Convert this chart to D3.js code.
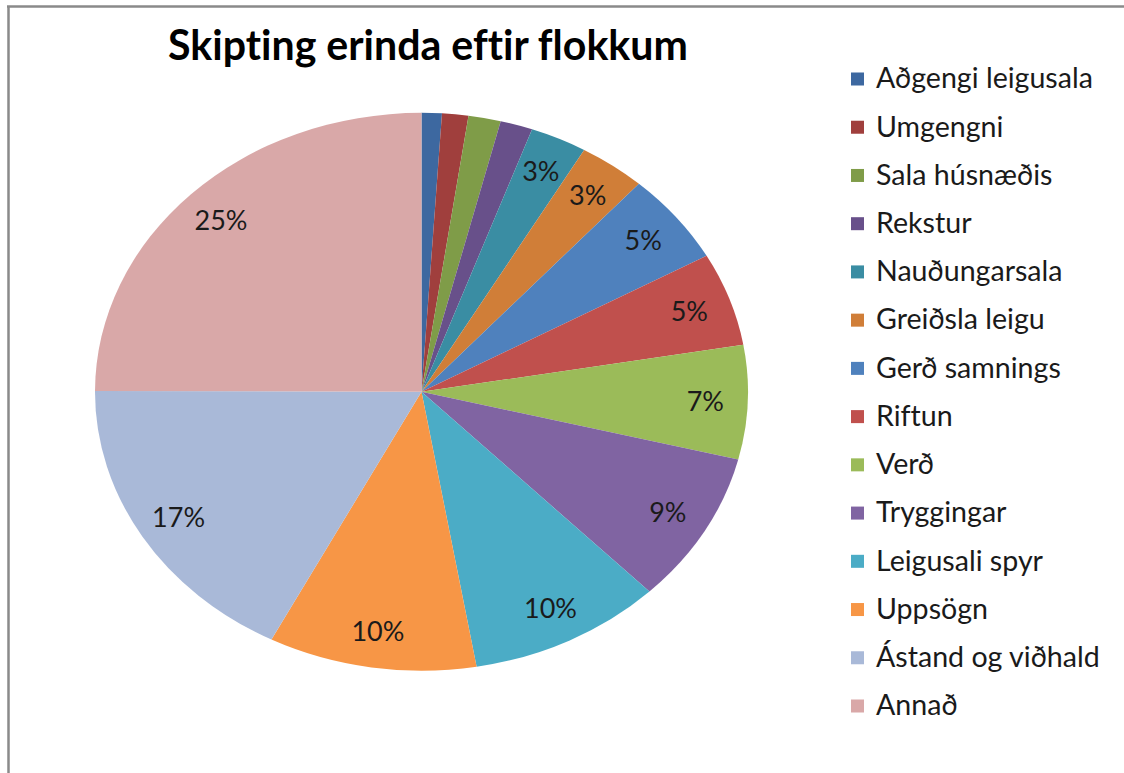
<!DOCTYPE html>
<html>
<head>
<meta charset="utf-8">
<script src="https://cdn.jsdelivr.net/npm/d3@7"></script>
<style>
  html, body { margin: 0; padding: 0; background: #fff; }
  svg { display: block; }
  text { font-variant-ligatures: none; font-feature-settings: "liga" 0, "dlig" 0; }
</style>
</head>
<body>
<svg id="chart" width="1124" height="773"></svg>
<script>
const title = "Skipting erinda eftir flokkum";
const categories = [
  "Aðgengi leigusala", "Umgengni", "Sala húsnæðis", "Rekstur", "Nauðungarsala",
  "Greiðsla leigu", "Gerð samnings", "Riftun", "Verð", "Tryggingar",
  "Leigusali spyr", "Uppsögn", "Ástand og viðhald", "Annað"
];
const values = [1.0, 1.3, 1.6, 1.6, 2.8, 3.3, 5.3, 5.4, 6.6, 8.8, 9.6, 10.3, 17.45, 24.95];
const colors = [
  "#3D68A0", "#A03F3D", "#7F9C48", "#68508A", "#3A8DA3", "#D07E38",
  "#4F81BD", "#C0504D", "#9BBB59", "#8064A2", "#4BACC6", "#F79646",
  "#A9B9D8", "#D9A8A8"
];
const labelMin = 2.5; // slices below this share carry no label

const svg = d3.select("#chart");
const W = 1124, H = 773;

// frame
svg.append("line").attr("x1", 8.5).attr("y1", 6).attr("x2", 8.5).attr("y2", H)
  .attr("stroke", "#8a8a8a").attr("stroke-width", 2.5);
svg.append("line").attr("x1", 7).attr("y1", 6.5).attr("x2", W).attr("y2", 6.5)
  .attr("stroke", "#8a8a8a").attr("stroke-width", 2.5);

const FONT = "Lato, 'Open Sans', sans-serif";

function fitSize(text, weight, targetW, base) {
  const t = svg.append("text").attr("font-family", FONT).attr("font-weight", weight)
    .attr("font-size", base).text(text);
  const w = t.node().getComputedTextLength();
  t.remove();
  return base * targetW / w;
}

// title
const titleSize = fitSize(title, "bold", 520, 30);
svg.append("text")
  .attr("x", 428).attr("y", 60)
  .attr("text-anchor", "middle")
  .attr("font-family", FONT).attr("font-weight", "bold")
  .attr("font-size", titleSize)
  .attr("fill", "#000")
  .text(title);

// pie (ellipse: circle stretched horizontally)
const cx = 421.5, cy = 391.8, rx = 326.5, ry = 279;
const total = d3.sum(values);
const pie = d3.pie().sort(null).value(d => d)(values);
const arc = d3.arc().innerRadius(0).outerRadius(ry);

const g = svg.append("g").attr("transform", `translate(${cx},${cy}) scale(${rx / ry},1)`);
g.selectAll("path").data(pie).join("path")
  .attr("d", arc)
  .attr("fill", (d, i) => colors[i]);

// labels
const labelSize = fitSize("10%", "normal", 53, 24);
const lf = 0.87;
svg.append("g").selectAll("text")
  .data(pie.filter(d => d.value / total * 100 >= labelMin))
  .join("text")
  .attr("x", d => cx + rx * lf * Math.sin((d.startAngle + d.endAngle) / 2))
  .attr("y", d => cy - ry * lf * Math.cos((d.startAngle + d.endAngle) / 2))
  .attr("dy", "0.36em")
  .attr("text-anchor", "middle")
  .attr("font-family", FONT)
  .attr("font-size", labelSize)
  .attr("fill", "#1a1a1a")
  .text(d => Math.round(d.value / total * 100) + "%");

// legend
const legSize = fitSize("Aðgengi leigusala", "normal", 217, 22);
const legY = d3.scalePoint().domain(categories).range([78, 705]);
const leg = svg.append("g").selectAll("g").data(categories).join("g")
  .attr("transform", d => `translate(0,${legY(d)})`);
leg.append("rect")
  .attr("x", 851).attr("y", -5.5).attr("width", 13).attr("height", 13)
  .attr("fill", (d, i) => colors[i]);
leg.append("text")
  .attr("x", 876).attr("y", 0).attr("dy", "0.36em")
  .attr("font-family", FONT).attr("font-size", legSize)
  .attr("fill", "#1a1a1a")
  .text(d => d);
</script>
</body>
</html>
